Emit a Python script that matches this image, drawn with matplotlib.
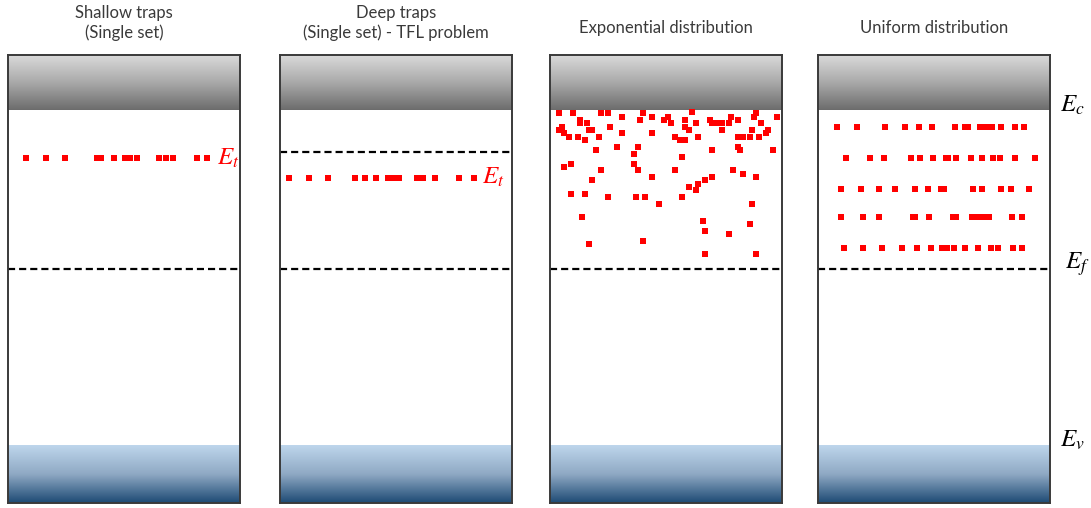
import numpy as np
from matplotlib import pyplot as plt
from matplotlib.colors import LinearSegmentedColormap

# Energy scale: valence band edge Ev = 0, conduction band edge Ec = 1
E_C = 1.0
E_V = 0.0
E_F = 0.525
E_TOP = 1.164
E_BOTTOM = -0.173

titles = ['Shallow traps\n(Single set)',
          'Deep traps\n(Single set) - TFL problem',
          'Exponential distribution',
          'Uniform distribution']

# Shallow traps: single level
shallow_level = 0.857
shallow_pos = [7.8, 16.2, 24.6, 38.5, 40, 45.8, 50.5, 52.5, 55.5, 65, 68, 71, 81.6, 85.6]

# Deep traps: single level below the quasi-Fermi level
deep_level = 0.798
deep_fermi = 0.875
deep_pos = [4, 12.5, 20.5, 32.5, 36.5, 41.5, 46.5, 48.5, 51.5, 59, 61.5, 67, 77, 83.5]

# Exponential distribution: trap position and energy
exp_pos = [4, 10, 22, 25, 31, 40, 39, 44, 51, 49, 52, 58, 61, 63, 69, 70, 71, 73, 74, 77,
           78, 81, 88, 89, 98, 91, 87, 94, 93, 5, 4, 6, 13, 13, 16, 17, 18, 26, 21, 31,
           44, 58, 60, 8, 12, 15, 54, 56, 57, 58, 64, 74, 81, 83, 86, 90, 96, 81, 82, 70,
           20, 29, 38, 36, 57, 9, 6, 36, 38, 22, 18, 44, 54, 70, 79, 83, 89, 64, 67, 60,
           63, 9, 15, 25, 37, 41, 47, 57, 87, 14, 66, 67, 77, 86, 17, 40, 67, 89]
exp_energy = [0.99, 0.99, 0.99, 0.99, 0.98, 0.99, 0.97, 0.98, 0.98, 0.97, 0.96, 0.97, 0.995, 0.96, 0.97, 0.96, 0.96, 0.96, 0.96, 0.96,
              0.98, 0.97, 0.98, 0.99, 0.98, 0.96, 0.94, 0.94, 0.93, 0.95, 0.94, 0.93, 0.97, 0.96, 0.96, 0.94, 0.94, 0.95, 0.92, 0.93,
              0.93, 0.95, 0.94, 0.92, 0.92, 0.91, 0.92, 0.91, 0.91, 0.91, 0.92, 0.94, 0.92, 0.92, 0.92, 0.92, 0.88, 0.89, 0.88, 0.88,
              0.88, 0.89, 0.89, 0.87, 0.86, 0.84, 0.83, 0.84, 0.82, 0.82, 0.79, 0.80, 0.82, 0.80, 0.82, 0.81, 0.80, 0.78, 0.79, 0.77,
              0.76, 0.75, 0.75, 0.74, 0.74, 0.74, 0.72, 0.74, 0.72, 0.68, 0.67, 0.64, 0.63, 0.66, 0.60, 0.61, 0.57, 0.57]

# Uniform distribution: five levels with traps spread along each
uniform_levels = [0.948, 0.857, 0.765, 0.680, 0.588]
uniform_pos = [
    [8, 17, 29, 37.5, 43.5, 49, 59, 63.5, 64.5, 70, 72.5, 75, 79, 85, 89],
    [12, 22.5, 28.5, 40, 44, 49.5, 55, 56, 59.5, 66, 70.5, 75.5, 78.5, 85, 93.5],
    [10, 18.5, 26.5, 33, 42, 47.5, 53, 54.5, 67, 70.5, 79, 83, 91],
    [10, 19.5, 26.5, 41, 42, 48, 58, 59.5, 66.5, 68.5, 71, 73.5, 83.5, 88],
    [11, 19.5, 27.5, 36, 42.5, 48.5, 53.5, 55.5, 58.5, 63.5, 69, 74.5, 77.5, 84, 88],
]

plt.rcParams['font.family'] = ['Lato', 'DejaVu Sans']
plt.rcParams['mathtext.fontset'] = 'stix'

TRAP_COLOR = '#ff0000'
FRAME_COLOR = '#3a3a3a'
DASHES = (3.2, 1.8)

# both colormaps run from light (0) to dark (1)
cb_cmap = LinearSegmentedColormap.from_list('cb', ['#dadada', '#a9a9a9', '#6c6c6c'])
vb_cmap = LinearSegmentedColormap.from_list('vb', ['#bed6ec', '#8fa9c4', '#1d4a74'])
grad = np.linspace(0, 1, 256).reshape(-1, 1)

fig = plt.figure(figsize=(10.91, 5.08), dpi=100)
lefts = [8, 280, 550, 818]
axes = []
for left, title in zip(lefts, titles):
    ax = fig.add_axes([left / 1091, 5 / 508, 232 / 1091, 448 / 508])
    # conduction band (top) and valence band (bottom) shading, light side up
    ax.imshow(grad, aspect='auto', cmap=cb_cmap, extent=[0, 100, E_C, E_TOP], origin='upper', zorder=0)
    ax.imshow(grad, aspect='auto', cmap=vb_cmap, extent=[0, 100, E_BOTTOM, E_V], origin='upper', zorder=0)
    ax.axhline(E_F, color='black', linewidth=1.6, dashes=DASHES, zorder=2)
    ax.set_xlim(0, 100)
    ax.set_ylim(E_BOTTOM, E_TOP)
    ax.set_xticks([])
    ax.set_yticks([])
    for spine in ax.spines.values():
        spine.set_color(FRAME_COLOR)
        spine.set_linewidth(1.4)
    two_lines = '\n' in title
    ax.set_title(title, fontsize=12, color='#3a3a3a', pad=12 if two_lines else 16, linespacing=1.25)
    axes.append(ax)

ax1, ax2, ax3, ax4 = axes

ax1.plot(shallow_pos, [shallow_level] * len(shallow_pos), 's', color=TRAP_COLOR, markersize=3.8, markeredgewidth=0, zorder=3)
ax1.text(95, shallow_level, r'$E_t$', color=TRAP_COLOR, fontsize=18, ha='center', va='center')

ax2.axhline(deep_fermi, color='black', linewidth=1.6, dashes=DASHES, zorder=2)
ax2.plot(deep_pos, [deep_level] * len(deep_pos), 's', color=TRAP_COLOR, markersize=3.8, markeredgewidth=0, zorder=3)
ax2.text(92, deep_level, r'$E_t$', color=TRAP_COLOR, fontsize=18, ha='center', va='center')

ax3.plot(exp_pos, exp_energy, 's', color=TRAP_COLOR, markersize=4.0, markeredgewidth=0, zorder=3)

for level, row in zip(uniform_levels, uniform_pos):
    ax4.plot(row, [level] * len(row), 's', color=TRAP_COLOR, markersize=4.0, markeredgewidth=0, zorder=3)

# band edge labels to the right of the last panel
for label, energy, xpos in [(r'$E_c$', E_C, 109.5), (r'$E_f$', E_F, 112), (r'$E_v$', E_V, 109.5)]:
    ax4.text(xpos, energy + 0.015, label, fontsize=18, ha='center', va='center', clip_on=False)

plt.savefig('out.png', dpi=100)
